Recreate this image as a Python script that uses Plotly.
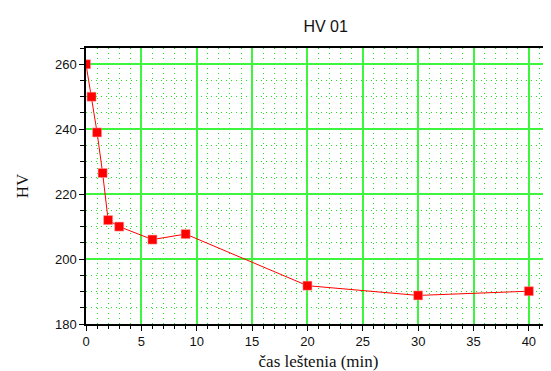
import plotly.graph_objects as go

time_min = [0, 0.5, 1, 1.5, 2, 3, 6, 9, 20, 30, 40]
hv_values = [260, 250, 239, 226.5, 212, 210, 206, 207.7, 191.8, 188.8, 190.1]

fig = go.Figure()
fig.add_trace(go.Scatter(
    x=time_min, y=hv_values, mode="lines+markers",
    line=dict(color="#ff0000", width=1),
    marker=dict(symbol="square", size=9, color="#ff0000",
                line=dict(color="#ff9a9a", width=0.5)),
    showlegend=False,
))

grid_major = "#3cf53c"
grid_minor = "#1ee61e"

fig.update_layout(
    width=543, height=363,
    margin=dict(l=78, r=0, t=40, b=47),
    paper_bgcolor="white", plot_bgcolor="white",
    title=dict(text="HV 01", x=0.585, xanchor="center", y=0.95, yanchor="middle",
               font=dict(family="Liberation Sans, Arial", size=16, color="#111")),
    font=dict(family="Liberation Sans, Arial", size=13, color="#111"),
)

fig.update_xaxes(
    range=[0, 42], tick0=0, dtick=5,
    showline=True, linecolor="black", linewidth=1.5, mirror=True,
    ticks="outside", ticklen=5, tickcolor="black", tickwidth=1,
    showgrid=True, gridcolor=grid_major, gridwidth=1.5,
    zeroline=False,
    minor=dict(dtick=1, tick0=0, ticks="outside", ticklen=3, tickcolor="black",
               showgrid=True, gridcolor=grid_minor, griddash="1px,4px", gridwidth=1),
    title=dict(text="čas leštenia (min)", standoff=8,
               font=dict(family="Liberation Serif, Times New Roman, serif", size=17, color="#111")),
    tickfont=dict(family="Liberation Sans, Arial", size=13),
)
fig.update_yaxes(
    range=[180, 265], tick0=180, dtick=20,
    showline=True, linecolor="black", linewidth=1.5, mirror=False,
    ticks="outside", ticklen=5, tickcolor="black", tickwidth=1,
    showgrid=True, gridcolor=grid_major, gridwidth=1.5,
    zeroline=False,
    minor=dict(dtick=5, tick0=180, ticks="outside", ticklen=4, tickcolor="black",
               showgrid=True, gridcolor=grid_minor, griddash="1px,4px", gridwidth=1),
    title=dict(text="HV", standoff=22,
               font=dict(family="Liberation Serif, Times New Roman, serif", size=17, color="#111")),
    tickfont=dict(family="Liberation Sans, Arial", size=13),
)

fig.write_html("out.html")
